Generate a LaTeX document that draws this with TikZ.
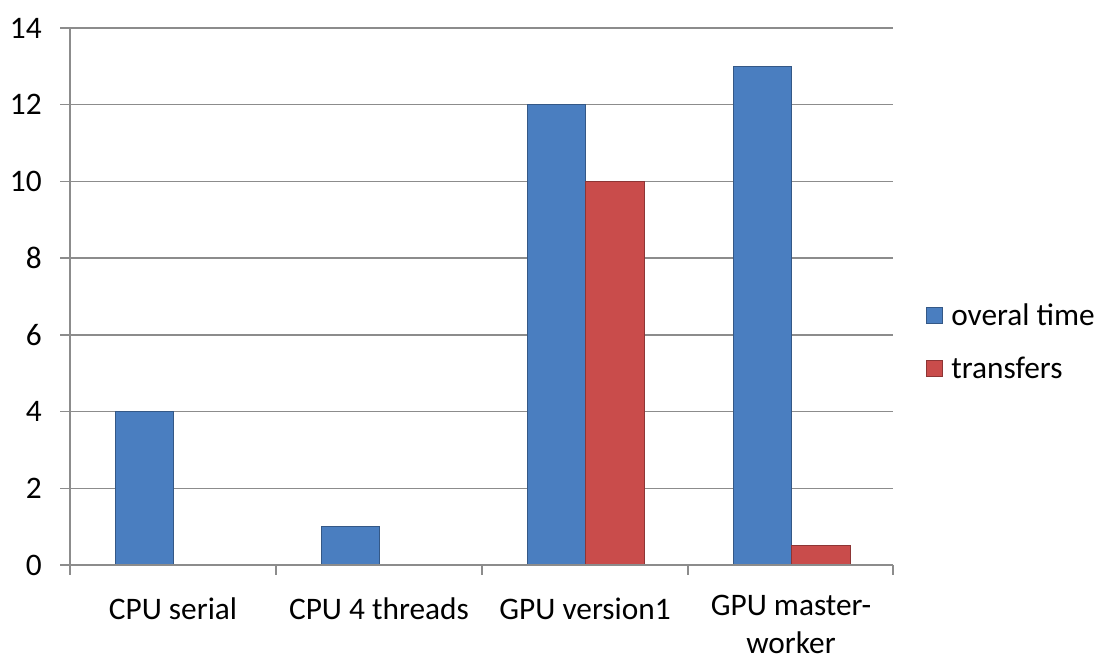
\documentclass[tikz,border=0pt]{standalone}
\usepackage{fontspec}
\setmainfont{Carlito}
\definecolor{barblue}{HTML}{4A7EC0}
\definecolor{barred}{HTML}{C94C4B}
\definecolor{gridgray}{HTML}{8C8C8C}
\begin{document}
\begin{tikzpicture}[x=0.75pt,y=-0.75pt,
  gridline/.style={draw=gridgray,line width=1.1pt},
  axisline/.style={draw=gridgray,line width=1.4pt},
  bluebar/.style={fill=barblue,draw=barblue!70!black,line width=0.6pt},
  redbar/.style={fill=barred,draw=barred!70!black,line width=0.6pt},
  ylab/.style={anchor=east,font=\fontsize{23.5}{26}\selectfont,inner sep=0pt},
  xlab/.style={anchor=base,align=center,font=\fontsize{23.5}{28.5}\selectfont,inner sep=0pt},
  leglab/.style={anchor=west,font=\fontsize{23.5}{26}\selectfont,inner sep=0pt}]
\useasboundingbox[fill=white] (0,0) rectangle (1094,661);
% value v sits at y = 565 - 38.36 v
% horizontal grid lines with their left ticks
\foreach \v in {2,4,...,14}{
  \draw[gridline] (60,{565-38.36*\v}) -- (893,{565-38.36*\v});
}
% value labels
\foreach \v in {0,2,...,14}{
  \node[ylab] (y\v) at (42,{565-38.36*\v}) {\v};
}
% bars: overal time (blue) and transfers (red)
\path[bluebar] (115,{565-38.36*4}) rectangle (173,565);
\path[bluebar] (321,{565-38.36*1}) rectangle (379,565);
\path[bluebar] (527,{565-38.36*12}) rectangle (585,565);
\path[redbar]  (585,{565-38.36*10}) rectangle (644,565);
\path[bluebar] (733,{565-38.36*13}) rectangle (791,565);
\path[redbar]  (791,{565-38.36*0.5}) rectangle (850,565);
% axes
\draw[axisline] (70,28) -- (70,575);
\draw[axisline] (60,565) -- (893,565);
\foreach \x in {276,482,688,893}{
  \draw[axisline] (\x,565) -- (\x,575);
}
% category labels
\node[xlab] (c1) at (173,619) {CPU serial};
\node[xlab] (c2) at (379,619) {CPU 4 threads};
\node[xlab] (c3) at (585,619) {GPU version1};
\node[xlab,anchor=north] (c4) at (791,595) {GPU master-\\worker};
% legend
\path[bluebar] (926,307) rectangle (942,323);
\node[leglab] (l1) at (951,315) {overal time};
\path[redbar] (926,360) rectangle (942,376);
\node[leglab] (l2) at (951,368) {transfers};
\end{tikzpicture}
\end{document}
